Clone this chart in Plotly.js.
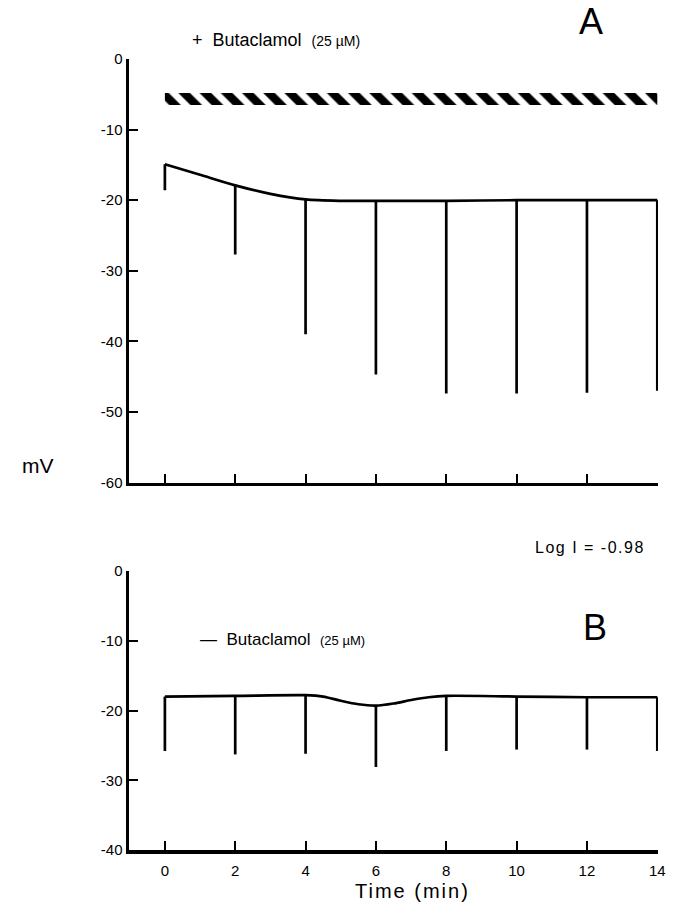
<!DOCTYPE html>
<html>
<head>
<meta charset="utf-8">
<script src="https://cdn.plot.ly/plotly-3.0.1.min.js"></script>
<style>html,body{margin:0;padding:0;background:#fff;}#chart{width:679px;height:911px;}</style>
</head>
<body>
<div id="chart"></div>
<script>
// ---- Panel A (+ Butaclamol) ----
const curveTimesA = [0, 1, 2, 3, 4, 5, 6, 8, 10, 12, 14];
const curveA      = [-14.9, -16.4, -17.9, -19.1, -19.9, -20.1, -20.1, -20.1, -20.0, -20.0, -20.0];
const spikeTimes  = [0, 2, 4, 6, 8, 10, 12, 14];
const spikeBaseA  = [-14.9, -17.9, -19.9, -20.1, -20.1, -20.0, -20.0, -20.0];
const spikeEndA   = [-18.6, -27.7, -39.0, -44.7, -47.4, -47.4, -47.3, -47.0];
const drugBarTimes = [0, 14];
const drugBarMV    = [-4.8, -6.5];

// ---- Panel B (- Butaclamol) ----
const curveTimesB = [0, 2, 4, 4.5, 5, 5.5, 6, 6.5, 7, 7.5, 8, 10, 12, 14];
const curveB      = [-18.0, -17.9, -17.8, -18.0, -18.6, -19.1, -19.3, -19.0, -18.5, -18.1, -17.9, -18.0, -18.1, -18.1];
const spikeBaseB  = [-18.0, -17.9, -17.8, -19.3, -17.9, -18.0, -18.1, -18.1];
const spikeEndB   = [-25.8, -26.3, -26.2, -28.1, -25.8, -25.6, -25.6, -25.8];

// ---- Ticks ----
const xTickVals = [0, 2, 4, 6, 8, 10, 12, 14];
const xTickText = ['0', '2', '4', '6', '8', '10', '12', '14'];
const yTickValsA = [0, -10, -20, -30, -40, -50, -60];
const yTickTextA = ['0', '-10', '-20', '-30', '-40', '-50', '-60'];
const yTickValsB = [0, -10, -20, -30, -40];
const yTickTextB = ['0', '-10', '-20', '-30', '-40'];

function spikes(times, base, end) {
  const x = [], y = [];
  times.forEach((t, i) => { x.push(t, t, null); y.push(base[i], end[i], null); });
  return {x, y};
}
const sA = spikes(spikeTimes, spikeBaseA, spikeEndA);
const sB = spikes(spikeTimes, spikeBaseB, spikeEndB);

const FONT = 'Liberation Sans, Arial, sans-serif';
const LW = 2.7;

const traces = [
  { x: [drugBarTimes[0], drugBarTimes[1], drugBarTimes[1], drugBarTimes[0], drugBarTimes[0]],
    y: [drugBarMV[0], drugBarMV[0], drugBarMV[1], drugBarMV[1], drugBarMV[0]],
    xaxis: 'x2', yaxis: 'y2', mode: 'lines', fill: 'toself',
    fillcolor: '#fff',
    fillpattern: {shape: '\\', size: 15, solidity: 0.55, fgcolor: '#000', bgcolor: '#fff', fgopacity: 1, fillmode: 'replace'},
    line: {width: 0, color: 'rgba(0,0,0,0)'}, hoverinfo: 'skip', showlegend: false },
  { x: curveTimesA, y: curveA, xaxis: 'x2', yaxis: 'y2', mode: 'lines',
    line: {color: '#000', width: LW, shape: 'spline', smoothing: 0.8}, showlegend: false },
  { x: sA.x, y: sA.y, xaxis: 'x2', yaxis: 'y2', mode: 'lines',
    line: {color: '#000', width: LW}, showlegend: false },
  { x: curveTimesB, y: curveB, xaxis: 'x', yaxis: 'y', mode: 'lines',
    line: {color: '#000', width: LW, shape: 'spline', smoothing: 0.8}, showlegend: false },
  { x: sB.x, y: sB.y, xaxis: 'x', yaxis: 'y', mode: 'lines',
    line: {color: '#000', width: LW}, showlegend: false }
];

const common = {
  showgrid: false, zeroline: false, showline: true, linecolor: '#000', linewidth: 3.5,
  ticks: 'inside', ticklen: 9, tickwidth: 2, tickcolor: '#000',
  tickfont: {family: FONT, size: 15, color: '#000'}, fixedrange: true
};

const layout = {
  width: 679, height: 911,
  margin: {l: 129, r: 21, t: 59, b: 61},
  paper_bgcolor: '#fff', plot_bgcolor: '#fff',
  font: {family: FONT, color: '#000'},
  showlegend: false,
  xaxis: Object.assign({}, common, {domain: [0, 1], anchor: 'y', range: [-1.02, 14.02],
    tickmode: 'array', tickvals: xTickVals, ticktext: xTickText, ticklabelstandoff: 4}),
  yaxis: Object.assign({}, common, {domain: [0, 0.3527], anchor: 'x', range: [-40, 0],
    tickmode: 'array', tickvals: yTickValsB, ticktext: yTickTextB}),
  xaxis2: Object.assign({}, common, {domain: [0, 1], anchor: 'y2', range: [-1.02, 14.02],
    tickmode: 'array', tickvals: xTickVals, showticklabels: false}),
  yaxis2: Object.assign({}, common, {domain: [0.4646, 1], anchor: 'x2', range: [-60, 0],
    tickmode: 'array', tickvals: yTickValsA, ticktext: yTickTextA}),
  annotations: [
    {xref: 'paper', yref: 'paper', x: 0.8733, y: 1.0468, text: 'A', showarrow: false,
     font: {family: FONT, size: 36, color: '#000'}, xanchor: 'center', yanchor: 'middle'},
    {xref: 'paper', yref: 'paper', x: 0.8809, y: 0.2807, text: 'B', showarrow: false,
     font: {family: FONT, size: 36, color: '#000'}, xanchor: 'center', yanchor: 'middle'},
    {xref: 'paper', yref: 'paper', x: 0.8715, y: 0.3818,
     text: '<span style="letter-spacing:1.5px">Log I = -0.98</span>', showarrow: false,
     font: {family: FONT, size: 16, color: '#000'}, xanchor: 'center', yanchor: 'middle'},
    {xref: 'paper', yref: 'paper', x: -0.172, y: 0.4867, text: 'mV', showarrow: false,
     font: {family: FONT, size: 21, color: '#000'}, xanchor: 'center', yanchor: 'middle'},
    {xref: 'paper', yref: 'paper', x: 0.1153, y: 1.024,
     text: '+  Butaclamol  <span style="font-size:14px">(25 µM)</span>', showarrow: false,
     font: {family: FONT, size: 18, color: '#000'}, xanchor: 'left', yanchor: 'middle'},
    {xref: 'paper', yref: 'paper', x: 0.1304, y: 0.2655,
     text: '—  Butaclamol  <span style="font-size:13px">(25 µM)</span>', showarrow: false,
     font: {family: FONT, size: 17, color: '#000'}, xanchor: 'left', yanchor: 'middle'},
    {xref: 'paper', yref: 'paper', x: 0.535, y: -0.052,
     text: '<span style="letter-spacing:2px">Time (min)</span>', showarrow: false,
     font: {family: FONT, size: 20, color: '#000'}, xanchor: 'center', yanchor: 'middle'}
  ]
};

Plotly.newPlot('chart', traces, layout, {staticPlot: true, displayModeBar: false});
</script>
</body>
</html>
